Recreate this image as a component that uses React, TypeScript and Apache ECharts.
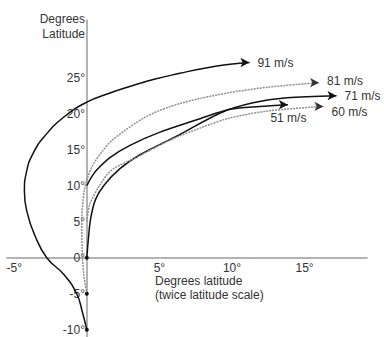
import React, { useEffect, useRef } from "react";
import * as echarts from "echarts";

const xTicks = [-5, 5, 10, 15];
const yTicks = [-10, -5, 0, 5, 10, 15, 20, 25];

const speedLabels = ["91 m/s", "81 m/s", "71 m/s", "60 m/s", "51 m/s"];

const path91: [number, number][] = [
  [0, -10], [-0.3, -7.6], [-0.7, -5], [-1.6, -2.3], [-2.76, 0], [-3.6, 3.2],
  [-4.1, 6.2], [-4.3, 9.2], [-4.15, 12.0], [-3.7, 14.5], [-2.9, 16.9],
  [-1.6, 19.5], [0, 21.6], [1.5, 22.8], [3.0, 23.8], [4.7, 24.8], [6.4, 25.6],
  [8.2, 26.35], [9.86, 26.85], [11.2, 27.1],
];
const path81: [number, number][] = [
  [0, -5], [-0.2, -2.5], [-0.3, 0], [-0.35, 5], [-0.2, 9], [0, 10.8],
  [0.4, 12.8], [1.0, 14.6], [1.8, 16.4], [4.1, 19.6], [6.4, 21.4],
  [9.5, 22.8], [12.6, 23.7], [16.0, 24.3],
];
const path71: [number, number][] = [
  [0, 0], [0.07, 1.8], [0.25, 5.3], [0.6, 8.1], [1.2, 10.1], [2.3, 12.4],
  [3.66, 14.3], [6.4, 17.1], [9.2, 20.1], [11.45, 21.5], [13.8, 22.2], [17.2, 22.5],
];
const path60: [number, number][] = [
  [0, 5], [0.2, 7.4], [0.9, 10.1], [1.72, 12.2], [3.3, 13.8], [5.7, 16.3],
  [7.8, 18.0], [9.86, 19.4], [12.6, 20.4], [16.3, 21.0],
];
const path51: [number, number][] = [
  [0, 10], [0.34, 11.25], [0.69, 12.2], [1.59, 13.9], [2.97, 15.6], [5.0, 17.4],
  [7.8, 19.3], [9.86, 20.6], [11.9, 21.0], [13.85, 21.25],
];

const FONT = "'Liberation Sans', Arial, sans-serif";

function makeSeries(
  name: string,
  pts: [number, number][],
  dotted: boolean,
  startDot: boolean,
  labelPos: string,
  labelOffset: [number, number],
  smooth: number
) {
  const color = dotted ? "#8f8f8f" : "#111";
  const data = pts.map((p, i) => {
    if (i === 0 && startDot) {
      return { value: p, symbol: "circle", symbolSize: 4, itemStyle: { color: "#111" } };
    }
    if (i === pts.length - 1) {
      return {
        value: p,
        symbol: "arrow",
        symbolSize: [7, 9],
        symbolRotate: -90,
        itemStyle: { color: dotted ? "#333" : "#111" },
        label: {
          show: true,
          formatter: name,
          position: labelPos,
          offset: labelOffset,
          distance: 6,
          color: "#333",
          fontSize: 12,
          fontFamily: FONT,
        },
      };
    }
    return { value: p, symbol: "none" };
  });
  return {
    type: "line",
    name,
    data,
    smooth,
    showSymbol: true,
    showAllSymbol: true,
    symbol: "none",
    lineStyle: dotted
      ? { color, width: 1.5, type: [2, 1] }
      : { color, width: 1.5 },
    emphasis: { disabled: true },
    z: 3,
  };
}

export default function App() {
  const ref = useRef<HTMLDivElement>(null);
  useEffect(() => {
    if (!ref.current) return;
    const chart = echarts.init(ref.current, undefined, { renderer: "svg" });
    const axisLabelBase = { color: "#333", fontSize: 12, fontFamily: FONT };
    chart.setOption({
      animation: false,
      grid: { left: 7, right: 17, top: 20, bottom: 0, outerBoundsMode: "none" },
      xAxis: {
        type: "value",
        min: -5.5,
        max: 19.3,
        position: "bottom",
        offset: -79,
        axisLine: { onZero: false, lineStyle: { color: "#9a9a9a", width: 1.5 } },
        axisTick: { show: false },
        splitLine: { show: false },
        axisLabel: {
          ...axisLabelBase,
          customValues: xTicks,
          formatter: (v: number) => v + "°",
          margin: 4,
        },
      },
      yAxis: {
        type: "value",
        min: -11,
        max: 33,
        position: "left",
        offset: -80,
        axisLine: { onZero: false, lineStyle: { color: "#9a9a9a", width: 1.5 } },
        axisTick: { show: false },
        splitLine: { show: false },
        axisLabel: {
          ...axisLabelBase,
          customValues: yTicks,
          formatter: (v: number) => v + "°",
          margin: 2,
        },
      },
      graphic: [
        {
          type: "text",
          x: 85,
          y: 11,
          style: {
            text: "Degrees\nLatitude",
            align: "right",
            verticalAlign: "top",
            fill: "#333",
            font: "12px " + FONT,
            lineHeight: 15,
          },
        },
        {
          type: "text",
          x: 155,
          y: 274,
          style: {
            text: "Degrees latitude\n(twice latitude scale)",
            verticalAlign: "top",
            fill: "#333",
            font: "12px " + FONT,
            lineHeight: 14,
          },
        },
      ],
      series: [
        makeSeries(speedLabels[0], path91, false, true, "right", [2, 0], 0.5),
        makeSeries(speedLabels[1], path81, true, true, "right", [2, -2], 0.3),
        makeSeries(speedLabels[2], path71, false, true, "right", [2, 0], 0.3),
        makeSeries(speedLabels[3], path60, true, false, "right", [2, 6], 0.3),
        makeSeries(speedLabels[4], path51, false, false, "bottom", [5, -3], 0.3),
      ],
    });
    return () => chart.dispose();
  }, []);
  return (
    <div
      ref={ref}
      style={{ position: "fixed", left: 0, top: 0, width: 384, height: 337, background: "#fff" }}
    />
  );
}
